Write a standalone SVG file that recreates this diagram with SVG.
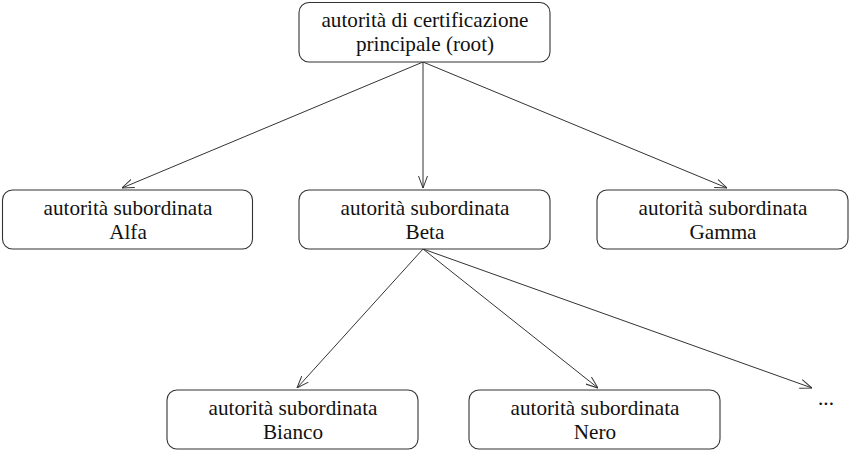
<svg xmlns="http://www.w3.org/2000/svg" width="850" height="451" viewBox="0 0 850 451">
<style>
.box{fill:#fff;stroke:#333;stroke-width:1.1}
.t{font-family:"Liberation Serif","Times New Roman",serif;font-size:21.2px;fill:#111;text-anchor:middle}
.c{fill:none;stroke:#333;stroke-width:1}
</style>
<defs>
<marker id="arr" viewBox="0 0 12 10" refX="12" refY="5" markerWidth="12" markerHeight="10" markerUnits="userSpaceOnUse" orient="auto">
<path d="M0,0.5 L12,5 L0,9.5" fill="none" stroke="#333" stroke-width="1"/>
</marker>
</defs>
<rect width="850" height="451" fill="#fff"/>
<g id="connectors">
<line class="c" x1="423" y1="62" x2="122" y2="188" marker-end="url(#arr)"/>
<line class="c" x1="423" y1="62" x2="423" y2="188" marker-end="url(#arr)"/>
<line class="c" x1="423" y1="62" x2="727" y2="188" marker-end="url(#arr)"/>
<line class="c" x1="423" y1="249" x2="297" y2="388" marker-end="url(#arr)"/>
<line class="c" x1="423" y1="249" x2="598" y2="388" marker-end="url(#arr)"/>
<line class="c" x1="423" y1="249" x2="812" y2="388" marker-end="url(#arr)"/>
</g>
<g id="root">
<rect class="box" x="299" y="2.5" width="251" height="59.5" rx="10"/>
<text class="t" x="425" y="27">autorità di certificazione</text>
<text class="t" x="425" y="51">principale (root)</text>
</g>
<g id="alfa">
<rect class="box" x="2.5" y="190" width="250" height="59" rx="10"/>
<text class="t" x="128" y="215">autorità subordinata</text>
<text class="t" x="128" y="239">Alfa</text>
</g>
<g id="beta">
<rect class="box" x="299" y="190" width="251" height="59" rx="10"/>
<text class="t" x="425" y="215">autorità subordinata</text>
<text class="t" x="425" y="239">Beta</text>
</g>
<g id="gamma">
<rect class="box" x="597" y="190" width="251" height="59" rx="10"/>
<text class="t" x="723" y="215">autorità subordinata</text>
<text class="t" x="723" y="239">Gamma</text>
</g>
<g id="bianco">
<rect class="box" x="167" y="390" width="251" height="59" rx="10"/>
<text class="t" x="293" y="415">autorità subordinata</text>
<text class="t" x="293" y="439">Bianco</text>
</g>
<g id="nero">
<rect class="box" x="469" y="390" width="251" height="59" rx="10"/>
<text class="t" x="595" y="415">autorità subordinata</text>
<text class="t" x="595" y="439">Nero</text>
</g>
<g id="more">
<text class="t" x="826" y="405">...</text>
</g>
</svg>
